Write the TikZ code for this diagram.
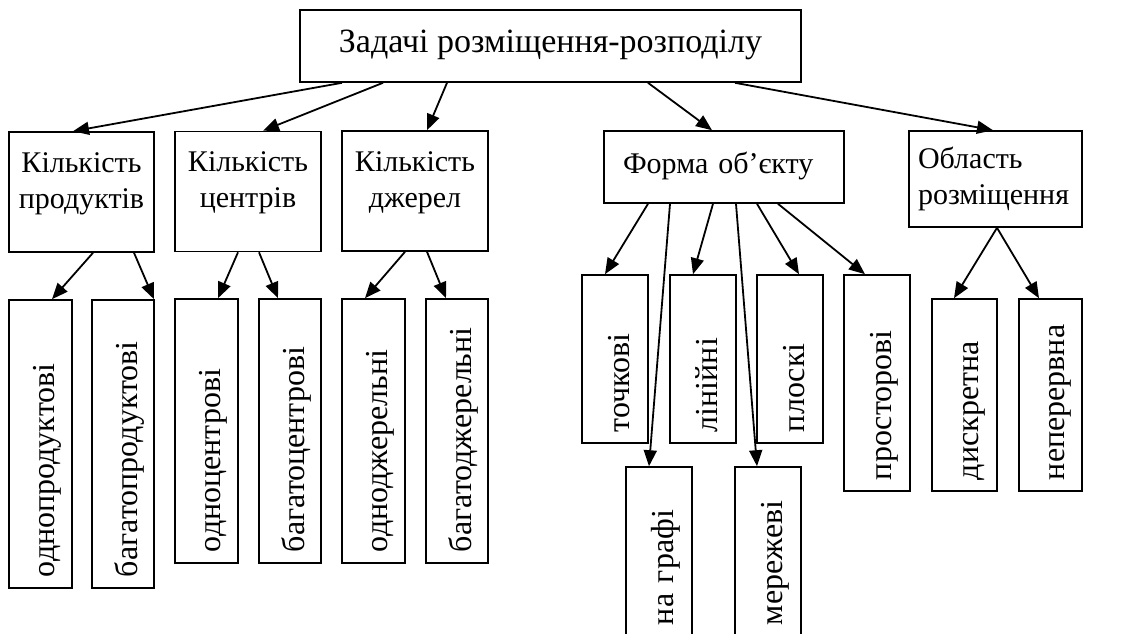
\documentclass[tikz,border=0pt]{standalone}
\usepackage{fontspec}
\setmainfont{Liberation Serif}
\usetikzlibrary{arrows.meta}

\tikzset{
  catbox/.style 2 args={draw, line width=1.6pt, inner sep=0pt, minimum width=#1, minimum height=#2,
    font=\fontsize{30}{36}\selectfont, text height=22pt},
  subbox/.style 2 args={draw, line width=1.6pt, inner sep=0pt, rotate=90, minimum width=#2, minimum height=#1,
    text width=#2-22pt, align=left, font=\fontsize{32}{36}\selectfont, text height=28pt, text depth=0pt},
  arr/.style={line width=1.8pt, -{Triangle[length=16pt,width=13pt]}},
}

\begin{document}
\begin{tikzpicture}[x=1pt,y=-1pt]
\useasboundingbox (0,0) rectangle (1136,633);

\node[catbox={501pt}{72pt}, font=\fontsize{34}{36}\selectfont, text depth=10pt] (Top) at (550.5,46) {Задачі розміщення-розподілу};

\node[catbox={145pt}{120pt}, text width=140pt, align=center, text depth=62pt] (KP) at (81.5,192) {Кількість\\продуктів};
\node[catbox={146pt}{120pt}, text width=140pt, align=center, text depth=62pt] (KC) at (248,191.5) {Кількість\\центрів};
\node[catbox={146pt}{120pt}, text width=140pt, align=center, text depth=62pt] (KD) at (415,191) {Кількість\\джерел};
\node[catbox={240pt}{72pt}, text width=202pt, align=left, text depth=10pt] (FO) at (724,167) {Форма об’єкту};
\node[catbox={173pt}{96pt}, text width=155pt, align=left, text depth=44pt] (OR) at (995.5,179) {Область\\розміщення};

\node[subbox={63pt}{288pt}] (OP) at (40.5,444) {однопродуктові};
\node[subbox={62pt}{288pt}] (BP) at (123,444) {багатопродуктові};
\node[subbox={63pt}{264pt}] (OC) at (206.5,431) {одноцентрові};
\node[subbox={62pt}{264pt}] (BC) at (290,431) {багатоцентрові};
\node[subbox={63pt}{264pt}] (OD) at (373.5,431) {одноджерельні};
\node[subbox={62pt}{264pt}] (BD) at (457,431) {багатоджерельні};

\node[subbox={66pt}{168pt}] (FT) at (615,359) {точкові};
\node[subbox={66pt}{168pt}] (FL) at (703,359) {лінійні};
\node[subbox={66pt}{168pt}] (FP) at (790,359) {плоскі};
\node[subbox={66pt}{216pt}] (FS) at (877,383) {просторові};
\node[subbox={66pt}{169pt}] (FG) at (659,551.5) {на графі};
\node[subbox={66pt}{169pt}] (FM) at (768,551.5) {мережеві};

\node[subbox={65pt}{192pt}] (RD) at (964.5,395) {дискретна};
\node[subbox={63pt}{192pt}] (RN) at (1050.5,395) {неперервна};

% first level
\draw[arr] ([xshift=-208.5pt]Top.south) -- ([xshift=-8.5pt]KP.north);
\draw[arr] ([xshift=-167.5pt]Top.south) -- ([xshift=15pt]KC.north);
\draw[arr] ([xshift=-103.5pt]Top.south) -- ([xshift=12pt]KD.north);
\draw[arr] ([xshift=97.5pt]Top.south) -- ([xshift=-12pt]FO.north);
\draw[arr] ([xshift=184.5pt]Top.south) -- ([xshift=-2.5pt]OR.north);

% second level
\draw[arr] ([xshift=11.5pt]KP.south) -- ([xshift=11.5pt]OP.east);
\draw[arr] ([xshift=52.5pt]KP.south) -- ([xshift=31pt]BP.east);
\draw[arr] ([xshift=-10pt]KC.south) -- ([xshift=11.5pt]OC.east);
\draw[arr] ([xshift=11pt]KC.south) -- ([xshift=-12pt]BC.east);
\draw[arr] ([xshift=-10pt]KD.south) -- ([xshift=-8.5pt]OD.east);
\draw[arr] ([xshift=12pt]KD.south) -- ([xshift=-11pt]BD.east);

\draw[arr] ([xshift=-76pt]FO.south) -- ([xshift=-10pt]FT.east);
\draw[arr] ([xshift=-54pt]FO.south) -- ([xshift=-10pt]FG.east);
\draw[arr] ([xshift=-11pt]FO.south) -- ([xshift=-10pt]FL.east);
\draw[arr] ([xshift=12pt]FO.south) -- ([xshift=-11pt]FM.east);
\draw[arr] ([xshift=33pt]FO.south) -- ([xshift=9pt]FP.east);
\draw[arr] ([xshift=54pt]FO.south) -- ([xshift=-12pt]FS.east);

\draw[arr] ([xshift=1.5pt]OR.south) -- ([xshift=-10.5pt]RD.east);
\draw[arr] ([xshift=1.5pt]OR.south) -- ([xshift=-11.5pt]RN.east);

\end{tikzpicture}
\end{document}
